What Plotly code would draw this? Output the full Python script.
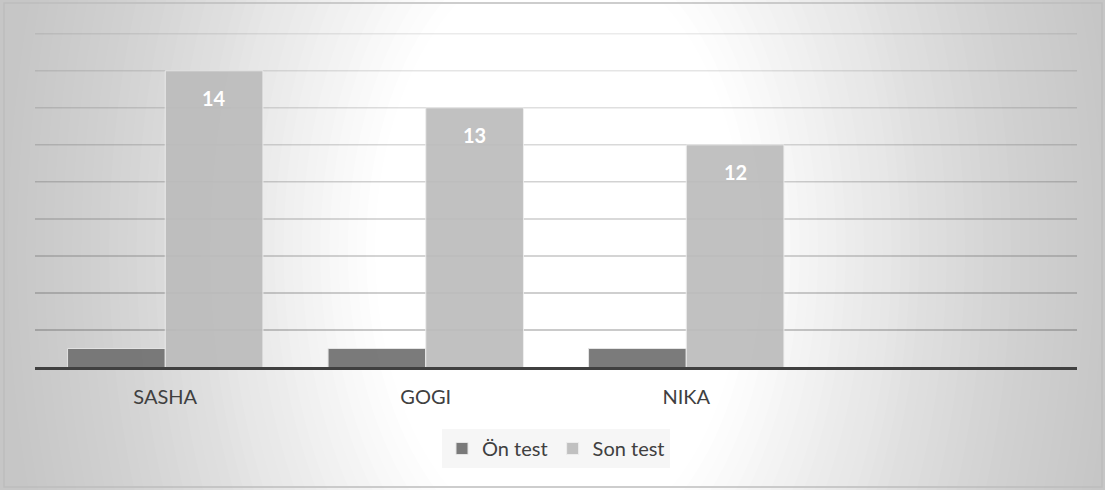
import plotly.graph_objects as go

# ---- data ----
categories = ["SASHA", "GOGI", "NIKA", " "]
on_test = [6.5, 6.5, 6.5, None]
son_test = [14, 13, 12, None]
series_names = ["Ön test", "Son test"]
y_min, y_max, y_step = 6, 15, 1

W, H = 1105, 490
M_L, M_R, M_T, M_B = 35, 28, 33, 123
PW, PH = W - M_L - M_R, H - M_T - M_B
FONT = "Lato, Open Sans, sans-serif"

def px_x(p):
    return (p - M_L) / PW

def px_y(p):
    return (H - M_B - p) / PH

fig = go.Figure()

fig.add_trace(go.Bar(
    x=categories, y=on_test, name=series_names[0],
    marker=dict(color="#747474", line=dict(color="#e4e4e4", width=1)),
    opacity=0.95,
))
fig.add_trace(go.Bar(
    x=categories, y=son_test, name=series_names[1],
    marker=dict(color="#bcbcbc", line=dict(color="#ececec", width=1)),
    opacity=0.92,
))

# value labels near the top of the Son test bars
for c, v in zip(categories, son_test):
    if v is None:
        continue
    fig.add_annotation(
        x=c, y=v, text=f"<b>{v}</b>", showarrow=False,
        xshift=49, yshift=-27,
        font=dict(family=FONT, size=20, color="white"),
    )

shapes = []

# elliptical background: gray at the sides, white through the middle
base = 0xc4
cx, cy = 560, 250
rx_u, ry_u = 560, 900
r_outer, r_inner = 1.15, 0.33
N = 50
cur = float(base)
for k in range(N + 1):
    r = r_outer - (r_outer - r_inner) * k / N
    t = min(1.0, max(0.0, (r - r_inner) / (1.0 - r_inner)))
    target = 255 - (255 - base) * (t ** 1.25)
    a = max(0.0, min(1.0, (target - cur) / (255 - cur))) if cur < 255 else 0
    cur = cur + a * (255 - cur)
    rx, ry = rx_u * r, ry_u * r
    shapes.append(dict(
        type="circle", xref="paper", yref="paper", layer="below",
        x0=px_x(cx - rx), x1=px_x(cx + rx),
        y0=px_y(cy + ry), y1=px_y(cy - ry),
        fillcolor=f"rgba(255,255,255,{a:.4f})", line=dict(width=0),
    ))

# horizontal gridlines, fading toward the top
grid_vals = list(range(y_min + y_step, y_max + 1, y_step))
for i, gv in enumerate(grid_vals):
    frac = i / (len(grid_vals) - 1)
    alpha = 0.36 - 0.26 * frac
    shapes.append(dict(
        type="line", xref="paper", yref="y", layer="below",
        x0=0, x1=1, y0=gv, y1=gv,
        line=dict(color=f"rgba(60,60,60,{alpha:.3f})", width=1.5),
    ))

# chart border
shapes.append(dict(
    type="rect", xref="paper", yref="paper", layer="above",
    x0=px_x(4), x1=px_x(1102), y0=px_y(487), y1=px_y(3),
    line=dict(color="#bdbdbd", width=1.5), fillcolor="rgba(0,0,0,0)",
))

fig.update_layout(
    width=W, height=H,
    margin=dict(l=M_L, r=M_R, t=M_T, b=M_B),
    paper_bgcolor="#c6c6c6",
    plot_bgcolor="rgba(0,0,0,0)",
    barmode="group", bargap=0.25, bargroupgap=0,
    shapes=shapes,
    font=dict(family=FONT, color="#404040"),
    showlegend=True,
    legend=dict(
        orientation="h", x=0.5, xanchor="center", y=px_y(429), yanchor="top",
        bgcolor="#f6f6f6", font=dict(size=20, color="#404040"),
        traceorder="normal",
    ),
)

fig.update_xaxes(
    type="category", categoryorder="array", categoryarray=categories,
    showline=True, linecolor="#404040", linewidth=3,
    ticks="", ticklabelstandoff=10,
    tickfont=dict(family=FONT, size=20, color="#404040"),
    showgrid=False, zeroline=False,
)
fig.update_yaxes(
    range=[y_min, y_max + 0.02], dtick=y_step, showticklabels=False, ticks="",
    showgrid=False, zeroline=False, showline=False,
)

fig.write_html("out.html")
